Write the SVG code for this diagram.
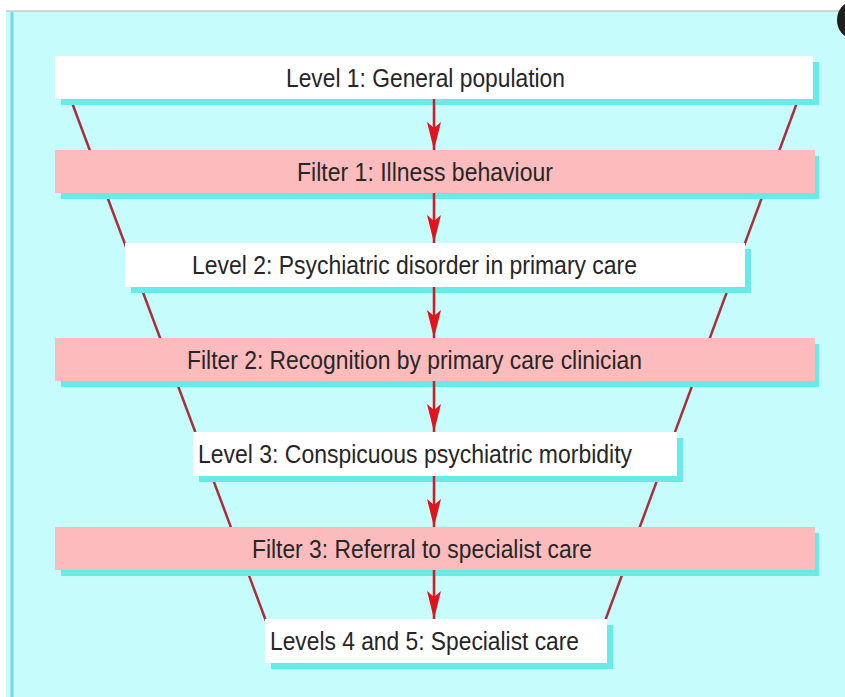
<svg xmlns="http://www.w3.org/2000/svg" width="845" height="697" viewBox="0 0 845 697">
<defs>
<style>
.shadow{fill:#6ae9e9}
.level{fill:#ffffff}
.filter{fill:#fcbcbe}
.lbl{font-family:"Liberation Sans",Arial,sans-serif;font-size:25px;fill:#262626}
.funnel{stroke:#a82f3c;stroke-width:2.5;fill:none}
.arrow{stroke:#e0141c;stroke-width:2.5;fill:none}
</style>
<marker id="ah" viewBox="0 0 28 16" refX="28" refY="8" markerWidth="28" markerHeight="16" markerUnits="userSpaceOnUse" orient="auto">
<path d="M0,1 L28,8 L0,15 L6,8 Z" fill="#e0141c"/>
</marker>
</defs>
<rect x="0" y="0" width="845" height="697" fill="#ffffff"/>
<rect x="6" y="11" width="845" height="690" fill="#c6fcfc"/>
<line x1="6" y1="11" x2="845" y2="11" stroke="#c8c8c8" stroke-width="1.5"/>
<line x1="12" y1="12" x2="12" y2="697" stroke="#7ad8d8" stroke-width="3"/>
<ellipse cx="852" cy="20" rx="15" ry="18" fill="#1e1e1e"/>
<g id="funnel">
<line class="funnel" x1="71" y1="100" x2="266" y2="621"/>
<line class="funnel" x1="798" y1="100" x2="605" y2="621"/>
</g>
<g id="level1">
<rect class="shadow" x="61" y="62" width="758" height="43"/>
<rect class="level" x="55" y="56" width="758" height="43"/>
<text class="lbl" x="286" y="86.5" textLength="279" lengthAdjust="spacingAndGlyphs">Level 1: General population</text>
</g>
<g id="filter1">
<rect class="shadow" x="61" y="156" width="758" height="43"/>
<rect class="filter" x="55" y="150" width="760" height="43"/>
<text class="lbl" x="297" y="180.5" textLength="256" lengthAdjust="spacingAndGlyphs">Filter 1: Illness behaviour</text>
</g>
<g id="level2">
<rect class="shadow" x="131" y="249" width="620" height="44"/>
<rect class="level" x="125" y="243" width="620" height="44"/>
<text class="lbl" x="192" y="274" textLength="445" lengthAdjust="spacingAndGlyphs">Level 2: Psychiatric disorder in primary care</text>
</g>
<g id="filter2">
<rect class="shadow" x="61" y="344" width="758" height="43"/>
<rect class="filter" x="55" y="338" width="760" height="43"/>
<text class="lbl" x="187" y="368.5" textLength="455" lengthAdjust="spacingAndGlyphs">Filter 2: Recognition by primary care clinician</text>
</g>
<g id="level3">
<rect class="shadow" x="199" y="438" width="484" height="44"/>
<rect class="level" x="193" y="432" width="484" height="44"/>
<text class="lbl" x="198" y="463" textLength="434" lengthAdjust="spacingAndGlyphs">Level 3: Conspicuous psychiatric morbidity</text>
</g>
<g id="filter3">
<rect class="shadow" x="61" y="533" width="758" height="43"/>
<rect class="filter" x="55" y="527" width="760" height="43"/>
<text class="lbl" x="252" y="557.5" textLength="340" lengthAdjust="spacingAndGlyphs">Filter 3: Referral to specialist care</text>
</g>
<g id="level45">
<rect class="shadow" x="271" y="625" width="342" height="44"/>
<rect class="level" x="265" y="619" width="342" height="44"/>
<text class="lbl" x="270" y="650" textLength="309" lengthAdjust="spacingAndGlyphs">Levels 4 and 5: Specialist care</text>
</g>
<g id="connectors">
<line class="arrow" x1="434" y1="99" x2="434" y2="150" marker-end="url(#ah)"/>
<line class="arrow" x1="434" y1="193" x2="434" y2="243" marker-end="url(#ah)"/>
<line class="arrow" x1="434" y1="287" x2="434" y2="338" marker-end="url(#ah)"/>
<line class="arrow" x1="434" y1="381" x2="434" y2="432" marker-end="url(#ah)"/>
<line class="arrow" x1="434" y1="476" x2="434" y2="527" marker-end="url(#ah)"/>
<line class="arrow" x1="434" y1="570" x2="434" y2="619" marker-end="url(#ah)"/>
</g>
</svg>
